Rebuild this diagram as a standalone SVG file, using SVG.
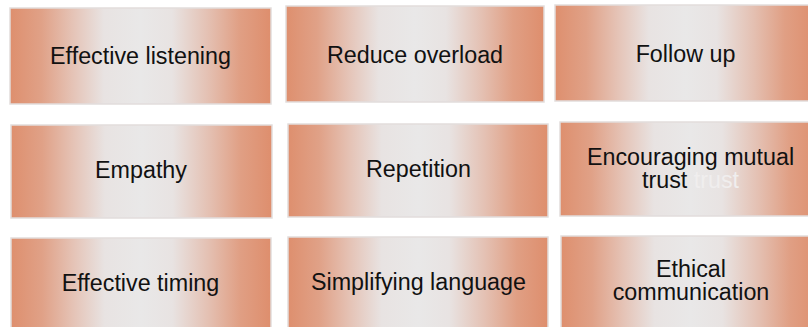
<svg xmlns="http://www.w3.org/2000/svg" width="808" height="327" viewBox="0 0 808 327">
<defs>
<linearGradient id="g" x1="0" y1="0" x2="1" y2="0">
<stop offset="0" stop-color="#de8f6e"/>
<stop offset="0.12" stop-color="#e0a187"/>
<stop offset="0.24" stop-color="#e5c3b6"/>
<stop offset="0.36" stop-color="#e8e3e2"/>
<stop offset="0.5" stop-color="#e9e8e8"/>
<stop offset="0.62" stop-color="#e8e3e2"/>
<stop offset="0.76" stop-color="#e4c0b2"/>
<stop offset="0.88" stop-color="#e09f84"/>
<stop offset="1" stop-color="#de8e6d"/>
</linearGradient>
</defs>
<style>
.box{fill:url(#g);stroke:#e2dddc;stroke-width:1.5}
.t{font-family:"Liberation Sans",Arial,sans-serif;font-size:23.3px;fill:#111;text-anchor:middle}
.ghost{fill:#f0eeee}
</style>
<rect width="808" height="327" fill="#ffffff"/>
<g id="node-effective-listening"><rect class="box" x="10" y="8" width="261" height="96"/><text class="t" x="140.5" y="64">Effective listening</text></g>
<g id="node-reduce-overload"><rect class="box" x="286" y="6" width="258" height="96"/><text class="t" x="415" y="63">Reduce overload</text></g>
<g id="node-follow-up"><rect class="box" x="555" y="5" width="261" height="96"/><text class="t" x="685.5" y="62">Follow up</text></g>
<g id="node-empathy"><rect class="box" x="11" y="125" width="261" height="93"/><text class="t" x="141" y="178">Empathy</text></g>
<g id="node-repetition"><rect class="box" x="288" y="124" width="260" height="93"/><text class="t" x="418.5" y="177">Repetition</text></g>
<g id="node-encouraging-mutual-trust"><rect class="box" x="560" y="122" width="261" height="94"/><text class="t" x="690.5" y="164.5">Encouraging mutual</text><text class="t" x="690.5" y="187.5">trust <tspan class="ghost">trust</tspan></text></g>
<g id="node-effective-timing"><rect class="box" x="11" y="238" width="260" height="96"/><text class="t" x="140.5" y="291">Effective timing</text></g>
<g id="node-simplifying-language"><rect class="box" x="288" y="237" width="260" height="96"/><text class="t" x="418.5" y="290">Simplifying language</text></g>
<g id="node-ethical-communication"><rect class="box" x="561" y="236" width="260" height="96"/><text class="t" x="691" y="277">Ethical</text><text class="t" x="691" y="300">communication</text></g>
<g id="connectors"></g>
</svg>
